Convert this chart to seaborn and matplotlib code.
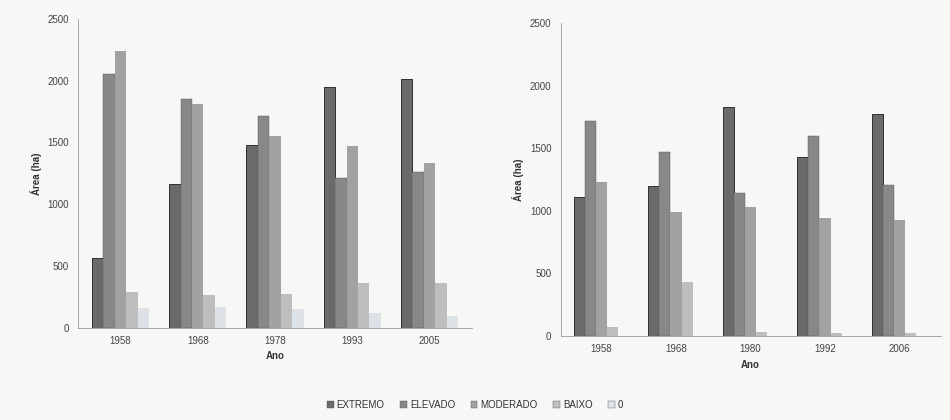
import numpy as np
import pandas as pd
import matplotlib
matplotlib.use("Agg")
import matplotlib.pyplot as plt
import seaborn as sns

## DATA
classes = ["EXTREMO", "ELEVADO", "MODERADO", "BAIXO", "0"]

years_a = ["1958", "1968", "1978", "1993", "2005"]
extremo_a = [560, 1160, 1480, 1950, 2010]
elevado_a = [2050, 1850, 1710, 1210, 1260]
moderado_a = [2240, 1810, 1550, 1470, 1330]
baixo_a = [290, 260, 275, 360, 365]
zero_a = [160, 165, 150, 120, 90]

years_b = ["1958", "1968", "1980", "1992", "2006"]
extremo_b = [1110, 1200, 1830, 1430, 1770]
elevado_b = [1720, 1470, 1140, 1600, 1210]
moderado_b = [1230, 990, 1030, 940, 930]
baixo_b = [75, 430, 30, 20, 20]
zero_b = [0, 0, 0, 0, 0]

colors = ["#6a6a6a", "#888888", "#a2a2a2", "#bebebe", "#dde2e6"]


## HELPERS
def to_long(years, series):
  rows = []
  for cls, vals in zip(classes, series):
    for y, v in zip(years, vals):
      rows.append({"Ano": y, "classe": cls, "area": v})
  return pd.DataFrame(rows)


def draw(ax, df):
  sns.barplot(data=df, x="Ano", y="area", hue="classe", hue_order=classes,
              palette=colors, width=0.74, ax=ax, legend=False,
              linewidth=0, saturation=1)
  # only the darkest class has a visible outline in the original
  for bar in ax.containers[0]:
    bar.set_edgecolor("#2e2e2e")
    bar.set_linewidth(0.7)
  for bar in ax.containers[1]:
    bar.set_edgecolor("#555555")
    bar.set_linewidth(0.3)
  ax.set_ylim(0, 2500)
  ax.set_yticks(np.arange(0, 2501, 500))
  ax.set_xlim(-0.55, 4.55)
  ax.set_xlabel("Ano", fontsize=7, fontweight="bold", color="#333333")
  ax.set_ylabel("Área (ha)", fontsize=7, fontweight="bold", color="#333333")
  ax.tick_params(axis="both", labelsize=7, colors="#444444", length=3, width=0.5)
  ax.tick_params(axis="x", length=0, pad=6)
  # tick marks between groups like the original
  ax.set_xticks(np.arange(-0.5, 5.0, 1.0), minor=True)
  ax.tick_params(axis="x", which="minor", length=3, width=0.5, color="#888888")
  for s in ["top", "right"]:
    ax.spines[s].set_visible(False)
  for s in ["left", "bottom"]:
    ax.spines[s].set_color("#9a9a9a")
    ax.spines[s].set_linewidth(0.6)


def main():
  sns.set_style("white")
  plt.rcParams["font.family"] = ["Liberation Sans", "DejaVu Sans"]

  fig = plt.figure(figsize=(9.5, 4.2), dpi=100, facecolor="#f7f7f5")
  ax1 = fig.add_axes([0.082, 0.22, 0.415, 0.735])
  ax2 = fig.add_axes([0.59, 0.20, 0.40, 0.745])
  for ax in (ax1, ax2):
    ax.set_facecolor("#f7f7f5")

  draw(ax1, to_long(years_a, [extremo_a, elevado_a, moderado_a, baixo_a, zero_a]))
  draw(ax2, to_long(years_b, [extremo_b, elevado_b, moderado_b, baixo_b, zero_b]))

  handles = [plt.Rectangle((0, 0), 1, 1, facecolor=c, edgecolor="#555555", linewidth=0.3)
             for c in colors]
  fig.legend(handles, classes, loc="center", bbox_to_anchor=(0.5, 0.035), ncol=5,
             frameon=False, fontsize=7, handlelength=0.7, handleheight=0.7,
             handletextpad=0.3, columnspacing=1.6, labelcolor="#333333")

  fig.savefig("out.png", dpi=100, facecolor=fig.get_facecolor())


if __name__ == "__main__":
  main()
